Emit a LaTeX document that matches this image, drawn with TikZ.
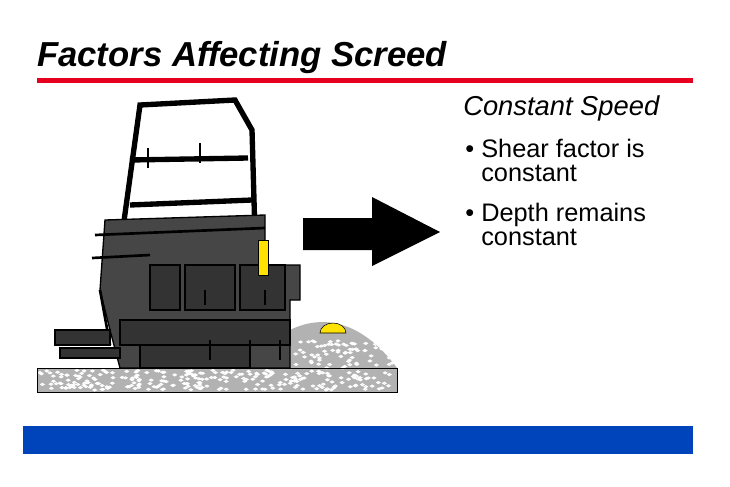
\documentclass[tikz,border=0pt]{standalone}
\usepackage{fontspec}
\setmainfont{Liberation Sans}
\definecolor{bbar}{RGB}{0,68,187}
\definecolor{rline}{RGB}{230,0,30}
\begin{document}
\begin{tikzpicture}[x=0.75pt,y=-0.75pt,
  body/.style={fill=gray!55!black,draw=black,line width=1pt},
  dark/.style={fill=gray!40!black,draw=black,line width=1pt},
  bar/.style={draw=black,line width=4pt},
  txt/.style={anchor=base west,inner sep=0pt,font=\fontsize{19}{22}\selectfont}]
\useasboundingbox (0,0) rectangle (730,486);
\node[anchor=base west,inner sep=0pt,font=\fontsize{26}{30}\bfseries\itshape\selectfont] (title) at (37,66) {Factors Affecting Screed};
\fill[rline] (37,78) rectangle (693,83);
\fill[bbar] (23,426) rectangle (693,454);
\node[txt,font=\fontsize{20.5}{24}\itshape\selectfont] (h) at (463,115) {Constant Speed};
\node[txt] (b1) at (465,157) {•};
\node[txt] (b1a) at (481,157) {Shear factor is};
\node[txt] (b1b) at (481,181) {constant};
\node[txt] (b2) at (465,221) {•};
\node[txt] (b2a) at (481,221) {Depth remains};
\node[txt] (b2b) at (481,245) {constant};
% arrow
\fill (303,218) -- (372,218) -- (372,197) -- (440,232) -- (372,266) -- (372,250) -- (303,250) -- cycle;
% ground
\fill[gray!60] (37,368) rectangle (397,392);
\fill[gray!60] (290,330) .. controls (320,315) and (360,318) .. (397,368) -- (290,368) -- cycle;
\pgfmathsetseed{7}
\foreach \i in {0,...,260}{
  \pgfmathsetmacro{\xx}{40+354*rnd}
  \pgfmathsetmacro{\yy}{370+20*rnd}
  \draw[white,line width=0.8pt] (\xx,\yy) ellipse (1.6 and 1);
}
\foreach \i in {0,...,70}{
  \pgfmathsetmacro{\xx}{295+98*rnd}
  \pgfmathsetmacro{\yy}{340+28*rnd}
  \draw[white,line width=0.8pt] (\xx,\yy) ellipse (1.6 and 1);
}
\draw (37,368) rectangle (397,392);
\fill[yellow!85!orange,draw=black] (320,333) arc (180:360:13 and 10) -- cycle;
% canopy frame
\draw[bar] (120,250) -- (140,105) -- (235,100) -- (252,130) -- (255,235);
\draw[bar] (130,160) -- (248,158);
\draw[bar] (130,205) -- (252,200);
\draw[line width=2pt] (148,148) -- (148,168) (200,143) -- (200,163);
% main body
\draw[body] (105,220) -- (265,215) -- (265,265) -- (300,265) -- (300,300) -- (290,300) -- (290,368) -- (120,368) -- (110,330) -- (100,290) -- cycle;
\draw[dark] (150,265) rectangle (180,310);
\draw[dark] (185,265) rectangle (235,310);
\draw[dark] (240,265) rectangle (285,310);
\draw[dark] (120,320) rectangle (290,345);
\draw[dark] (140,345) rectangle (250,368);
\draw[line width=2pt] (95,235) -- (265,228);
\draw[line width=2pt] (92,258) -- (150,255);
\draw[line width=2pt] (100,290) -- (110,345);
\draw[dark] (55,330) rectangle (110,345);
\draw[dark] (60,348) rectangle (120,358);
\fill[yellow!85!orange,draw=black] (258,240) rectangle (268,275);
\foreach \x in {205,235,265}{\draw[line width=1.5pt] (\x,290) -- (\x,305);}
\foreach \x in {210,250,280}{\draw[line width=1.5pt] (\x,340) -- (\x,360);}
\end{tikzpicture}
\end{document}
